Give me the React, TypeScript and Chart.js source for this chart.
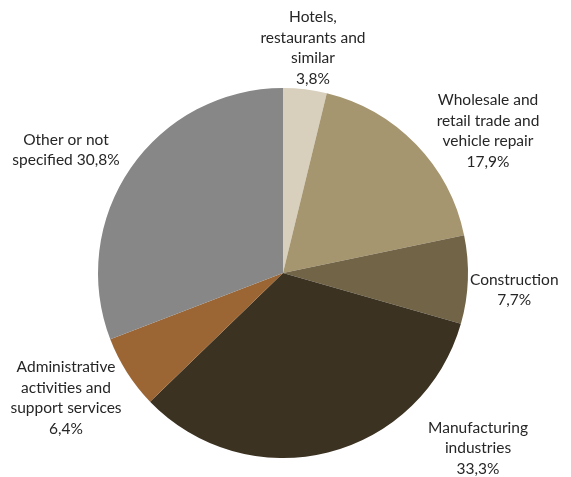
import React, { useEffect, useRef } from "react";
import { Chart, registerables } from "chart.js";

Chart.register(...registerables);

const categories: string[][] = [
  ["Hotels,", "restaurants and", "similar"],
  ["Wholesale and", "retail trade and", "vehicle repair"],
  ["Construction"],
  ["Manufacturing", "industries"],
  ["Administrative", "activities and", "support services"],
  ["Other or not", "specified"],
];
const shares: number[] = [3.8, 17.9, 7.7, 33.3, 6.4, 30.8];
const shareLabels: string[] = ["3,8%", "17,9%", "7,7%", "33,3%", "6,4%", "30,8%"];
const pctOnSameLine: boolean[] = [false, false, false, false, false, true];
const colors: string[] = ["#d8cfbc", "#a6966f", "#726446", "#3b3222", "#9b6534", "#878787"];
// label anchors relative to pie centre, in units of the radius
const labelOffsets: [number, number][] = [
  [0.162, -1.216],
  [1.108, -0.768],
  [1.25, 0.092],
  [1.054, 0.946],
  [-1.173, 0.676],
  [-1.173, -0.665],
];

const FONT = '15.5px Lato, "Open Sans", sans-serif';
const LINE_H = 20.5;

const labelPlugin = {
  id: "outsideLabels",
  afterDraw(chart: any) {
    const meta = chart.getDatasetMeta(0);
    const ctx = chart.ctx;
    ctx.save();
    ctx.font = FONT;
    ctx.fillStyle = "#262626";
    ctx.textAlign = "center";
    ctx.textBaseline = "middle";
    meta.data.forEach((arc: any, i: number) => {
      const { x, y, outerRadius } = arc.getProps(["x", "y", "outerRadius"], true);
      const lines = categories[i].slice();
      if (pctOnSameLine[i]) lines[lines.length - 1] += " " + shareLabels[i];
      else lines.push(shareLabels[i]);
      const cx = x + labelOffsets[i][0] * outerRadius;
      const cy = y + labelOffsets[i][1] * outerRadius;
      const top = cy - ((lines.length - 1) * LINE_H) / 2;
      lines.forEach((l, k) => ctx.fillText(l, cx, top + k * LINE_H));
    });
    ctx.restore();
  },
};

export default function App() {
  const ref = useRef<HTMLCanvasElement>(null);
  useEffect(() => {
    document.body.style.margin = "0";
    const chart = new Chart(ref.current!, {
      type: "pie",
      data: {
        labels: categories.map((c) => c.join(" ")),
        datasets: [
          {
            data: shares,
            backgroundColor: colors,
            borderWidth: 0,
          },
        ],
      },
      options: {
        animation: false,
        responsive: false,
        layout: { padding: { top: 88, bottom: 19, left: 0, right: 5 } },
        plugins: { legend: { display: false }, tooltip: { enabled: false } },
      },
      plugins: [labelPlugin],
    });
    return () => chart.destroy();
  }, []);
  return (
    <div style={{ width: 571, height: 477, background: "#fff" }}>
      <canvas ref={ref} width={571} height={477} style={{ display: "block" }} />
    </div>
  );
}
